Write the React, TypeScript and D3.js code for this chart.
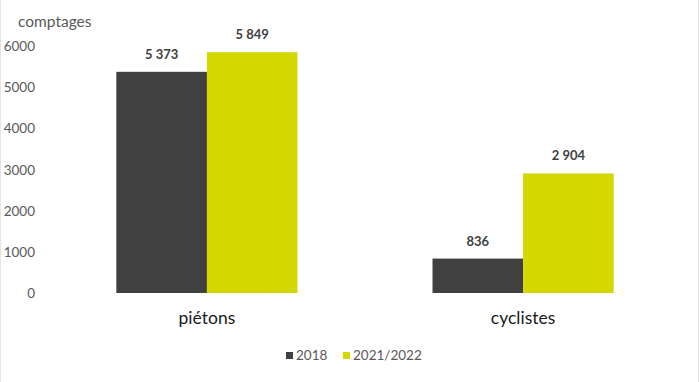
import React from "react";
import * as d3 from "d3";

const categories = ["piétons", "cyclistes"];
const seriesNames = ["2018", "2021/2022"];
const values2018 = [5373, 836];
const values2122 = [5849, 2904];
const yTicks = [0, 1000, 2000, 3000, 4000, 5000, 6000];
const colors = ["#404040", "#d4d700"];

const W = 700;
const H = 382;
const FONT = "Lato, 'Open Sans', sans-serif";

export default function App() {
  const y = d3.scaleLinear().domain([0, 6000]).range([293, 46]);
  const x = d3.scaleBand<string>().domain(categories).range([49, 681]).paddingInner(0.427).paddingOuter(0.213);
  const inner = d3.scaleBand<string>().domain(seriesNames).range([0, x.bandwidth()]);
  const series = [values2018, values2122];
  const fmt = (v: number) => d3.format(",")(v).replace(/,/g, " ");

  return (
    <svg width={W} height={H} style={{ position: "absolute", left: 0, top: 0, background: "#fff" }}>
      <rect x={0} y={0} width={W} height={H} fill="#fff" />
      <line x1={0.5} x2={0.5} y1={0} y2={H} stroke="#e4e4e4" />
      <line x1={698.5} x2={698.5} y1={0} y2={H} stroke="#e4e4e4" />
      <text x={18} y={27} fontFamily={FONT} fontSize={15.5} fill="#595959">comptages</text>
      {yTicks.map((t) => (
        <text key={t} x={35} y={y(t) + 5} textAnchor="end" fontFamily={FONT} fontSize={13.5} fill="#595959">
          {t}
        </text>
      ))}
      {categories.map((c, ci) => (
        <g key={c}>
          {seriesNames.map((s, si) => {
            const v = series[si][ci];
            const bx = (x(c) ?? 0) + (inner(s) ?? 0);
            return (
              <g key={s}>
                <rect x={bx} y={y(v)} width={inner.bandwidth()} height={y(0) - y(v)} fill={colors[si]} />
                <text
                  x={bx + inner.bandwidth() / 2}
                  y={y(v) - 13}
                  textAnchor="middle"
                  fontFamily={FONT}
                  fontWeight="bold"
                  fontSize={13}
                  fill="#404040"
                >
                  {fmt(v)}
                </text>
              </g>
            );
          })}
          <text
            x={(x(c) ?? 0) + x.bandwidth() / 2}
            y={324}
            textAnchor="middle"
            fontFamily={FONT}
            fontSize={17.5}
            fill="#1a1a1a"
          >
            {c}
          </text>
        </g>
      ))}
      {seriesNames.map((s, i) => {
        const lx = [286, 343][i];
        return (
          <g key={s}>
            <rect x={lx} y={352} width={7} height={7} fill={colors[i]} />
            <text x={lx + 10} y={360} fontFamily={FONT} fontSize={13.5} fill="#595959">
              {s}
            </text>
          </g>
        );
      })}
    </svg>
  );
}
